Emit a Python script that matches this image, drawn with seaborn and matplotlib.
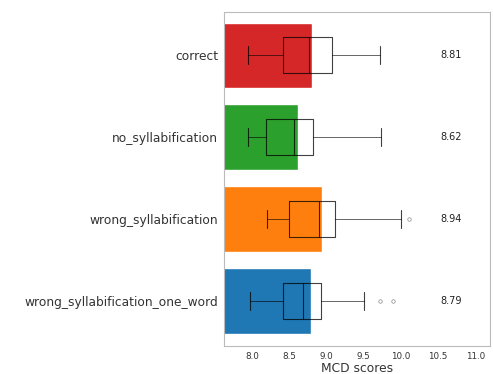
import matplotlib
matplotlib.use("Agg")
import matplotlib.pyplot as plt
import seaborn as sns
import pandas as pd

categories = ["correct", "no_syllabification", "wrong_syllabification", "wrong_syllabification_one_word"]
means = [8.81, 8.62, 8.94, 8.79]
colors = ["#d62728", "#2ca02c", "#ff7f0e", "#1f77b4"]
whislo = [7.95, 7.95, 8.20, 7.97]
q1 = [8.41, 8.19, 8.49, 8.42]
med = [8.76, 8.57, 8.90, 8.69]
q3 = [9.07, 8.82, 9.12, 8.93]
whishi = [9.72, 9.74, 10.00, 9.50]
fliers = [[], [], [10.11], [9.72, 9.90]]
mean_labels = ["8.81", "8.62", "8.94", "8.79"]

sns.set_style("white")
plt.rcParams['font.family'] = ['DejaVu Sans']

fig = plt.figure(figsize=(4.93, 3.74), dpi=100)
ax = fig.add_axes([0.454, 0.075, 0.540, 0.893])

df = pd.DataFrame({"category": categories, "mean": means})
sns.barplot(data=df, y="category", x="mean", hue="category", palette=colors,
            order=categories, legend=False, ax=ax, width=0.8, saturation=1)

stats = []
for i in range(len(categories)):
    stats.append(dict(whislo=whislo[i], q1=q1[i], med=med[i], q3=q3[i],
                      whishi=whishi[i], fliers=fliers[i], label=categories[i]))
ax.bxp(stats, positions=list(range(len(categories))), vert=False, widths=0.44,
       showfliers=True, manage_ticks=False,
       boxprops=dict(color="black", linewidth=0.8, alpha=0.75),
       whiskerprops=dict(color="black", linewidth=0.7, alpha=0.6),
       capprops=dict(color="black", linewidth=0.8, alpha=0.75),
       medianprops=dict(color="black", linewidth=0.8, alpha=0.75),
       flierprops=dict(marker="o", markersize=2.5, markerfacecolor="none",
                       markeredgecolor="#888888", markeredgewidth=0.5))

for i, lab in enumerate(mean_labels):
    ax.text(10.68, i, lab, ha="center", va="center", fontsize=7, color="#222222")

ax.set_xlim(7.62, 11.2)
ax.set_ylim(3.55, -0.53)
ax.set_xticks([8.0, 8.5, 9.0, 9.5, 10.0, 10.5, 11.0])
ax.tick_params(axis="x", labelsize=6.3, colors="#333333", length=0, pad=4)
ax.tick_params(axis="y", labelsize=8.8, colors="#333333", length=0, pad=4)
ax.set_xlabel("MCD scores", fontsize=8.8, color="#333333", labelpad=1)
ax.set_ylabel("")
for s in ax.spines.values():
    s.set_color("#bbbbbb")
    s.set_linewidth(0.8)

fig.savefig("out.png", dpi=100)
